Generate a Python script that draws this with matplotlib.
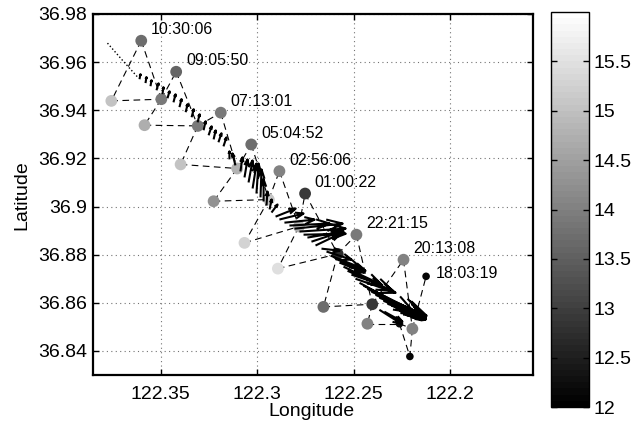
import numpy as np
import matplotlib
matplotlib.use("Agg")
import matplotlib.pyplot as plt
from matplotlib.colors import ListedColormap

plt.rcParams['font.family'] = ['Liberation Sans', 'DejaVu Sans']

# ---------------- data ----------------
# CTD / drifter stations (longitude W, latitude N, temperature degC)
station_lon = [122.3600, 122.3755, 122.3496, 122.3419, 122.3583, 122.3307, 122.3188,
               122.3396, 122.3103, 122.3030, 122.3225, 122.2884, 122.2939, 122.2751,
               122.3065, 122.2783, 122.2892, 122.2582, 122.2485, 122.2656, 122.2403,
               122.2428, 122.2262, 122.2195, 122.2241, 122.2208, 122.2124]
station_lat = [36.9689, 36.9439, 36.9446, 36.9560, 36.9338, 36.9335, 36.9390,
               36.9175, 36.9158, 36.9258, 36.9022, 36.9147, 36.9029, 36.9054,
               36.8849, 36.8917, 36.8742, 36.8803, 36.8883, 36.8583, 36.8594,
               36.8513, 36.8513, 36.8492, 36.8779, 36.8377, 36.8710]
station_temp = [13.7, 15.0, 13.9, 13.6, 14.7, 13.9, 13.9,
                15.0, 14.8, 13.7, 14.3, 14.0, 15.1, 12.9,
                15.3, 14.7, 15.45, 12.7, 13.9, 13.7, 12.9,
                14.0, 12.15, 14.0, 14.0, 12.1, 12.1]
small_station = [22, 25, 26]

# dashed ship-track legs between stations
track_legs = [(0, 1), (0, 2), (1, 2), (2, 3), (2, 4), (4, 5), (3, 5), (5, 6), (5, 7),
              (7, 8), (6, 8), (8, 9), (8, 10), (10, 12), (9, 12), (12, 11), (12, 14),
              (14, 15), (11, 15), (15, 13), (15, 16), (16, 17), (13, 17), (17, 18),
              (17, 19), (19, 20), (18, 20), (20, 24), (20, 21), (21, 22), (22, 23),
              (24, 23), (23, 26), (23, 25), (22, 25)]

# time labels at the apex stations
label_station = [0, 3, 6, 9, 11, 13, 18, 24, 26]
label_time = ['10:30:06', '09:05:50', '07:13:01', '05:04:52', '02:56:06',
              '01:00:22', '22:21:15', '20:13:08', '18:03:19']

# drifter track (dotted start)
drift_lon = [122.3775, 122.3700, 122.3619]
drift_lat = [36.9679, 36.9610, 36.9538]

# current vectors: position and (east, north) components in cm/s
vec_lon = [122.3609, 122.3578, 122.3552, 122.3521, 122.3490, 122.3464, 122.3433, 122.3402,
           122.3370, 122.3339, 122.3308, 122.3277, 122.3251, 122.3225, 122.3200, 122.3174,
           122.3143, 122.3112, 122.3086, 122.3065, 122.3044, 122.3023, 122.3003, 122.2982,
           122.2966, 122.2951, 122.2935, 122.2925, 122.2904, 122.2884, 122.2858, 122.2832,
           122.2806, 122.2780, 122.2759, 122.2739, 122.2718, 122.2697, 122.2666, 122.2640,
           122.2619, 122.2594, 122.2573, 122.2552, 122.2531, 122.2511, 122.2490, 122.2469,
           122.2448, 122.2428, 122.2407, 122.2386, 122.2366, 122.2345, 122.2324, 122.2303,
           122.2283, 122.2262, 122.2241, 122.2221, 122.2200, 122.2366, 122.2340]
vec_lat = [36.9529, 36.9513, 36.9500, 36.9483, 36.9467, 36.9450, 36.9433, 36.9413,
           36.9392, 36.9371, 36.9350, 36.9317, 36.9296, 36.9279, 36.9267, 36.9250,
           36.9196, 36.9171, 36.9146, 36.9121, 36.9100, 36.9075, 36.9054, 36.9038,
           36.9021, 36.9004, 36.8988, 36.8975, 36.8958, 36.8946, 36.8933, 36.8921,
           36.8908, 36.8896, 36.8883, 36.8871, 36.8854, 36.8838, 36.8825, 36.8813,
           36.8796, 36.8783, 36.8767, 36.8750, 36.8733, 36.8717, 36.8700, 36.8683,
           36.8671, 36.8658, 36.8646, 36.8633, 36.8621, 36.8608, 36.8596, 36.8588,
           36.8575, 36.8567, 36.8558, 36.8550, 36.8542, 36.8571, 36.8563]
vec_u = [0.8, 0.8, 0.8, 1.7, 0.8, 1.7, 1.7, 1.7,
         1.7, 1.7, 1.7, 1.7, 2.5, 1.7, 2.5, 2.5,
         0.0, -2.5, 1.7, 2.5, 3.3, 3.3, 1.7, 0.8,
         0.0, 0.8, 1.7, 5.0, 16.7, 20.0, 25.0, 33.3,
         40.0, 38.3, 35.0, 30.0, 25.0, 20.8, 15.0, 20.8,
         25.0, 25.0, 20.8, 31.7, 37.5, 25.0, 33.3, 45.8,
         50.0, 48.3, 45.8, 41.7, 37.5, 35.0, 31.7, 28.3,
         25.0, 21.7, 18.3, 15.0, 11.7, 18.3, 15.0]
vec_v = [4.2, 5.0, 5.0, 5.8, 5.8, 5.8, 6.7, 6.7,
         6.7, 6.7, 6.7, 7.5, 7.5, 7.5, 7.5, 7.5,
         6.7, 10.0, 11.7, 15.0, 18.3, 20.8, 25.0, 23.3,
         18.3, 11.7, 8.3, 6.7, 6.7, 5.0, 2.5, 1.7,
         4.2, 2.5, 0.8, 5.0, 8.3, 10.0, -1.7, -6.7,
         -10.0, -10.0, -8.3, -15.0, -16.7, -8.3, -11.7, -25.0,
         -25.0, -23.3, -20.0, -18.3, -15.0, -13.3, -11.7, -10.0,
         -8.3, -6.7, -5.0, -3.3, -2.5, -11.7, -8.3]
vec_scale = 0.0005  # degrees latitude per cm/s

x_ticks = [122.35, 122.30, 122.25, 122.20]
y_ticks = [36.84, 36.86, 36.88, 36.90, 36.92, 36.94, 36.96, 36.98]
cbar_ticks = [12, 12.5, 13, 13.5, 14, 14.5, 15, 15.5]

# ---------------- figure ----------------
W, H = 644, 422
fig = plt.figure(figsize=(W / 100, H / 100), dpi=100)
ax = fig.add_axes([93 / W, 47 / H, 440 / W, 361 / H])
ax.set_xlim(122.385, 122.157)
ax.set_ylim(36.83, 36.98)

cmap = ListedColormap(plt.get_cmap('gray')(np.linspace(0, 1, 64)))

ax.grid(True, linestyle=(0, (1, 3)), color='0.45', lw=0.8)
ax.set_axisbelow(True)

# dashed legs
for i0, i1 in track_legs:
    ax.plot([station_lon[i0], station_lon[i1]], [station_lat[i0], station_lat[i1]],
            color='black', lw=0.8, linestyle=(0, (6, 4)), zorder=2)

# dotted drift start
ax.plot(drift_lon, drift_lat, color='black', lw=1.0, linestyle=(0, (1, 1.6)), zorder=2)

# stations
sizes = [30 if i in small_station else 72 for i in range(len(station_lon))]
sc = ax.scatter(station_lon, station_lat, c=station_temp, s=sizes, cmap=cmap,
                vmin=12, vmax=16, edgecolors='none', zorder=3)

# time labels
for si, txt in zip(label_station, label_time):
    dy = 2 if txt == '18:03:19' else 8
    ax.annotate(txt, (station_lon[si], station_lat[si]), xytext=(7, dy),
                textcoords='offset points', fontsize=11.5, ha='left', va='center', zorder=5)

# current vectors (MATLAB-style line arrows)
fig.canvas.draw()
tr = ax.transData
inv = tr.inverted()
xs, ys = [], []
for lo, la, u, v in zip(vec_lon, vec_lat, vec_u, vec_v):
    coslat = np.cos(np.deg2rad(la))
    tip_lon = lo - u * vec_scale / coslat
    tip_lat = la + v * vec_scale
    p0 = tr.transform((lo, la))
    p1 = tr.transform((tip_lon, tip_lat))
    d = p1 - p0
    L = np.hypot(*d)
    if L < 1e-6:
        continue
    e = d / L
    n = np.array([-e[1], e[0]])
    hl = 0.33 * L
    hw = 0.36 * hl
    left = p1 - hl * e + hw * n
    right = p1 - hl * e - hw * n
    for p in [p0, p1, None, left, p1, right, None]:
        if p is None:
            xs.append(np.nan); ys.append(np.nan)
        else:
            q = inv.transform(p)
            xs.append(q[0]); ys.append(q[1])
ax.plot(xs, ys, color='black', lw=1.5, zorder=4, solid_capstyle='butt')

# axes styling
ax.set_xticks(x_ticks)
ax.set_xticklabels([f'{t:g}' for t in x_ticks])
ax.set_yticks(y_ticks)
ax.set_yticklabels([f'{t:g}' for t in y_ticks])
ax.tick_params(direction='in', length=4, width=1, top=True, right=True,
               labelsize=14, pad=4)
ax.tick_params(axis='x', pad=8)
for s in ax.spines.values():
    s.set_linewidth(1.6)

fig.text(311 / W, 1 - 411 / H, 'Longitude', ha='center', va='center', fontsize=14)
fig.text(22 / W, 1 - 195 / H, 'Latitude', ha='center', va='center', fontsize=14,
         rotation=90)

# colorbar
cax = fig.add_axes([551 / W, 15 / H, 38 / W, 395 / H])
cb = fig.colorbar(sc, cax=cax, ticks=cbar_ticks)
cb.ax.set_yticklabels([f'{t:g}' for t in cbar_ticks])
cb.ax.tick_params(direction='in', length=4, width=1, left=True, right=True,
                  labelsize=14, pad=3)
cb.outline.set_linewidth(1.0)

fig.savefig('out.png', dpi=100)
